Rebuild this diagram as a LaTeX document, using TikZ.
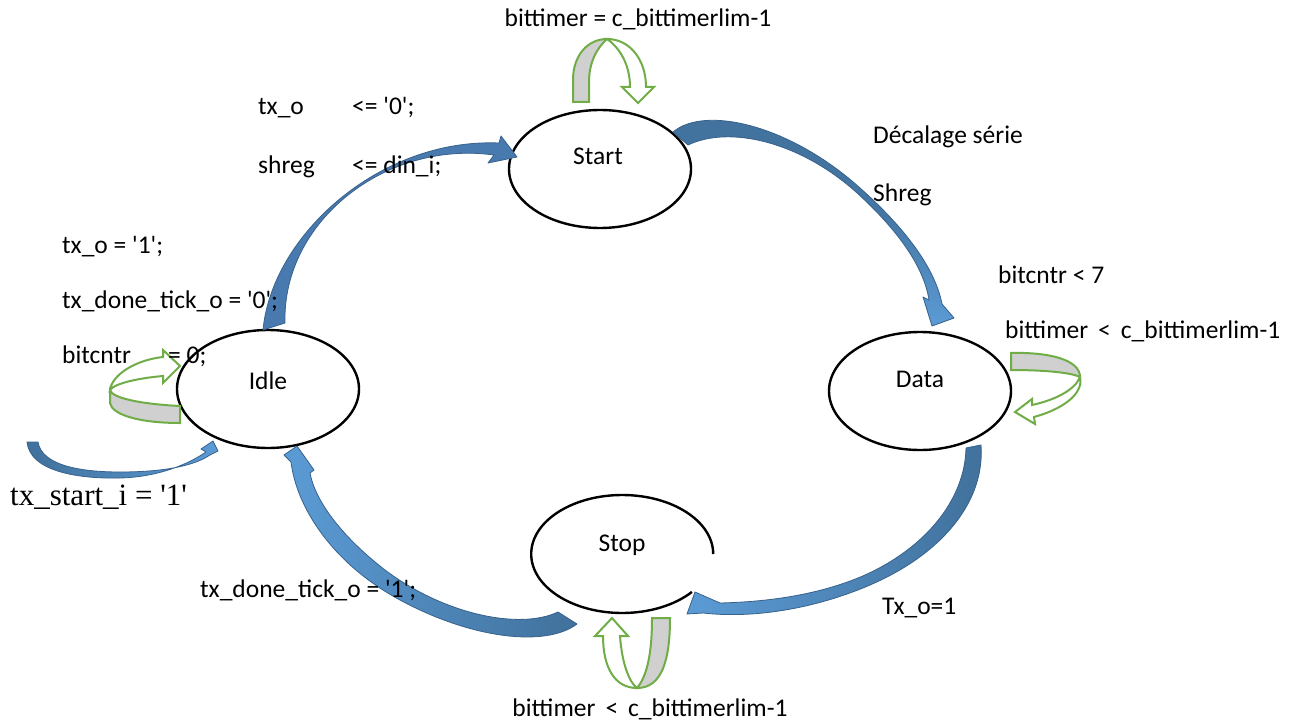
\documentclass[tikz,border=0pt]{standalone}
\usepackage{fontspec}
\setmainfont{Carlito}[Ligatures=TeXOff]
\newfontfamily\timesf{Liberation Serif}
\usetikzlibrary{shapes.geometric}
\definecolor{bdark}{RGB}{65,113,156}
\definecolor{bmid}{RGB}{72,122,176}
\definecolor{blight}{RGB}{91,155,213}
\definecolor{bedge}{RGB}{56,98,140}
\definecolor{lgreen}{RGB}{112,173,71}
\definecolor{lgray}{RGB}{208,208,208}
\tikzset{
  state/.style={ellipse, draw=black, line width=2.4pt, minimum width=182pt, minimum height=118pt, inner sep=0pt},
  hidden/.style={ellipse, minimum width=182pt, minimum height=118pt, inner sep=0pt},
  lbl/.style={inner sep=0pt, font=\fontsize{25.5}{30}\selectfont, anchor=base west},
  clbl/.style={lbl, anchor=base},
  barrow/.style={draw=bedge, line width=0.8pt, line join=round},
  loopw/.style={draw=lgreen, line width=2pt, fill=white, line join=miter},
  loopg/.style={draw=lgreen, line width=2pt, fill=lgray, line join=miter}
}
\newcommand{\ltgap}{\hspace{10pt}<\hspace{10pt}}
\begin{document}
\begin{tikzpicture}[x=1pt,y=-1pt]
\useasboundingbox[fill=white] (0,0) rectangle (1303,722);

% states
\node[state] (start) at (600,169) {};
\node[state] (idle) at (268,389) {};
\node[state] (data) at (920,391) {};
\node[hidden] (stop) at (622,554) {};
\draw[line width=2.4pt] (stop.east) arc[start angle=0, end angle=-320, x radius=91, y radius=59];

\node[clbl] (tstart) at (598,165) {Start};
\node[clbl] (tidle) at (268,389) {Idle};
\node[clbl] (tdata) at (920,387) {Data};
\node[clbl] (tstop) at (622,551) {Stop};

% blue arrows
% Idle -> Start
\path[barrow, fill=bmid] (263,330) .. controls (272,235) and (380,138) .. (499,143)
  -- (501,136) -- (517,157) -- (488,163) -- (494,155)
  .. controls (385,140) and (282,222) .. (285,323) -- cycle;
% Start -> Data
\path[barrow, top color=bdark, bottom color=blight, middle color=bdark!85!blight] (673,132) .. controls (705,105) and (790,125) .. (860,188)
  .. controls (905,228) and (935,268) .. (942,304)
  -- (954,318) -- (932,326) -- (923,297) -- (929,300)
  .. controls (924,268) and (900,232) .. (856,192)
  .. controls (800,142) and (730,125) .. (688,145) -- cycle;
% Data -> Stop
\path[barrow, left color=blight, middle color=blight!12!white, right color=bdark]
  (966,448) .. controls (965,500) and (925,548) .. (865,575)
  .. controls (815,597) and (760,602) .. (720,603)
  -- (695,592) -- (687,614) -- (703,613)
  .. controls (765,620) and (835,603) .. (885,578)
  .. controls (945,548) and (985,500) .. (981,445) -- cycle;
% Stop -> Idle
\path[barrow, left color=blight, right color=bdark]
  (558,612) .. controls (520,630) and (445,615) .. (385,570)
  .. controls (340,535) and (315,500) .. (310,473)
  -- (314,470) -- (297,446) -- (284,455) -- (291,462)
  .. controls (297,510) and (335,565) .. (400,600)
  .. controls (470,638) and (545,648) .. (577,624) -- cycle;
% entry
\path[barrow, left color=bdark, right color=blight]
  (27,442) .. controls (30,472) and (80,479) .. (120,478)
  .. controls (160,477) and (190,463) .. (206,452)
  -- (201,449) -- (213,441) -- (218,451) -- (210,455)
  .. controls (192,467) and (160,472) .. (120,472)
  .. controls (82,472) and (42,466) .. (38,442) -- cycle;

% green loops
% Start loop
\path[loopg] (573,102) -- (573,80) .. controls (573,55) and (588,39) .. (607,39)
  .. controls (597,48) and (589,62) .. (589,82) -- (589,102) -- cycle;
\path[loopw] (607,39) .. controls (630,39) and (646,60) .. (646,87) -- (654,87) -- (638,103)
  -- (622,87) -- (630,87) .. controls (630,65) and (620,48) .. (607,39) -- cycle;
% Stop loop
\path[loopw] (603,636) -- (595,636) -- (612,618) -- (628,636) -- (620,636)
  .. controls (622,665) and (630,683) .. (637,688)
  .. controls (615,688) and (603,668) .. (603,636) -- cycle;
\path[loopg] (652,618) -- (670,618) .. controls (670,660) and (662,688) .. (637,688)
  .. controls (648,675) and (652,650) .. (652,618) -- cycle;
% Idle loop
\path[loopg] (180,423) -- (180,406) .. controls (140,404) and (112,398) .. (110,390)
  -- (110,403) .. controls (112,415) and (140,423) .. (180,423) -- cycle;
\path[loopw] (110,390) .. controls (112,375) and (135,360) .. (163,357) -- (163,350) -- (180,366)
  -- (163,383) -- (163,376) .. controls (140,378) and (115,383) .. (110,390) -- cycle;
% Data loop
\path[loopg] (1011,353) .. controls (1050,352) and (1080,360) .. (1080,377)
  .. controls (1070,372) and (1040,370) .. (1011,370) -- cycle;
\path[loopw] (1080,377) .. controls (1084,395) and (1060,410) .. (1034,417) -- (1035,424) -- (1015,412)
  -- (1032,399) -- (1032,405) .. controls (1055,400) and (1075,390) .. (1080,377) -- cycle;

% labels
\node[clbl] (l1) at (638,27) {bittimer = c\_bittimerlim-1};
\node[lbl] (l2a) at (258,115) {tx\_o};
\node[lbl] (l2b) at (352,115) {<= '0';};
\node[lbl] (l3a) at (258,174) {shreg};
\node[lbl] (l3b) at (352,174) {<= din\_i;};
\node[lbl] (l4) at (873,144) {Décalage série};
\node[lbl] (l5) at (873,201) {Shreg};
\node[lbl] (l6) at (62,253) {tx\_o = '1';};
\node[lbl] (l7) at (62,308) {tx\_done\_tick\_o = '0';};
\node[lbl] (l8a) at (62,363) {bitcntr};
\node[lbl] (l8b) at (168,363) {= 0;};
\node[lbl] (l9) at (998,283) {bitcntr < 7};
\node[lbl] (l10) at (1005,338) {bittimer\ltgap c\_bittimerlim-1};
\node[lbl, font=\timesf\fontsize{31}{36}\selectfont] (l11) at (10,505) {tx\_start\_i = '1'};
\node[lbl] (l12) at (200,597) {tx\_done\_tick\_o = '1';};
\node[lbl] (l13) at (882,614) {Tx\_o=1};
\node[clbl] (l14) at (650,716) {bittimer\ltgap c\_bittimerlim-1};
\end{tikzpicture}
\end{document}
